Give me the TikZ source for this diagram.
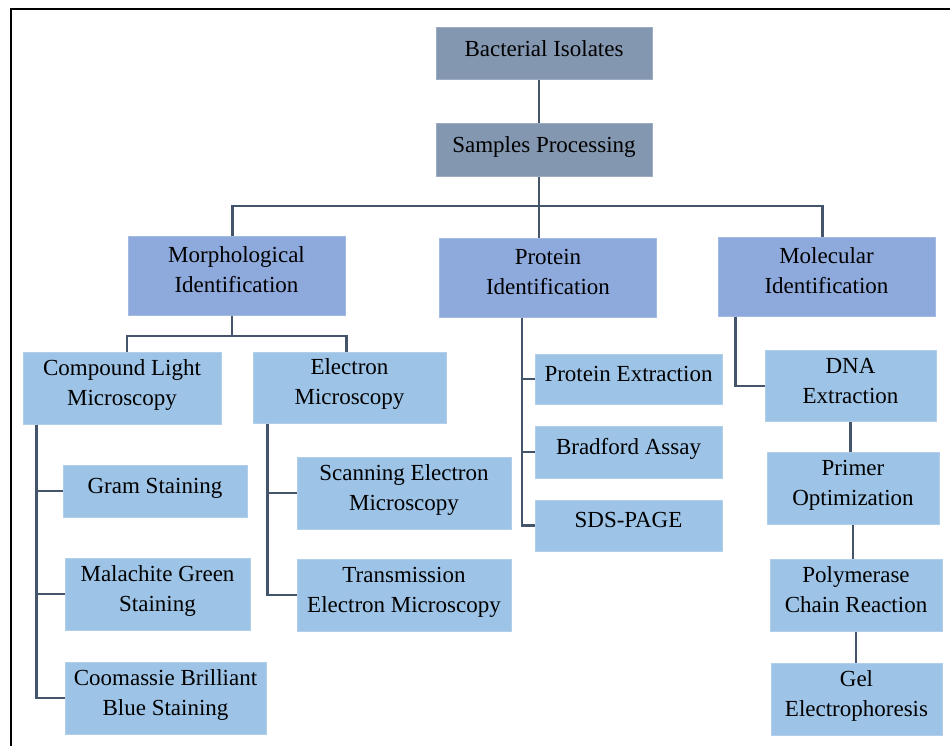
\documentclass[tikz,border=0pt]{standalone}
\usepackage{fontspec}
\setmainfont{Liberation Serif}
\definecolor{topfill}{HTML}{8497B0}
\definecolor{midfill}{HTML}{8EA9DB}
\definecolor{subfill}{HTML}{9DC3E6}
\definecolor{linkcol}{HTML}{44546A}

\begin{document}
\begin{tikzpicture}[x=1pt, y=-1pt,
  every node/.style={rectangle, inner sep=0, align=center, line width=1pt,
    font=\fontsize{23}{30}\selectfont,
    execute at end node={\rule[-11pt]{0pt}{0pt}}},
  topbox/.style={fill=topfill, draw=topfill!80!white},
  midbox/.style={fill=midfill, draw=midfill!80!white},
  subbox/.style={fill=subfill, draw=subfill!80!white},
  link/.style={draw=linkcol, line width=2.6pt}]
  \clip (0,0) rectangle (950,746);
  \useasboundingbox (0,0) rectangle (950,746);
  \draw[line width=2pt] (11,9) rectangle (970,770);

  \node[topbox, minimum width=216pt, minimum height=52pt] (bact) at (544,54) {Bacterial Isolates};
  \node[topbox, minimum width=216pt, minimum height=53pt] (samp) at (544,150.5) {Samples Processing};

  \node[midbox, minimum width=217pt, minimum height=79pt] (morph) at (236.5,275.5) {Morphological\\Identification};
  \node[midbox, minimum width=217pt, minimum height=79pt] (prot)  at (548,277.5)   {Protein\\Identification};
  \node[midbox, minimum width=217pt, minimum height=79pt] (molec) at (826.5,276.5) {Molecular\\Identification};

  \node[subbox, minimum width=198pt, minimum height=72pt] (clm) at (122,388)   {Compound Light\\Microscopy};
  \node[subbox, minimum width=193pt, minimum height=71pt] (elm) at (349.5,387.5) {Electron\\Microscopy};

  \node[subbox, minimum width=184pt, minimum height=52pt] (gram) at (155,491)   {Gram Staining};
  \node[subbox, minimum width=185pt, minimum height=72pt] (mala) at (157.5,594) {Malachite Green\\Staining};
  \node[subbox, minimum width=201pt, minimum height=72pt] (coom) at (165.5,698) {Coomassie Brilliant\\Blue Staining};

  \node[subbox, minimum width=214pt, minimum height=72pt] (sem) at (404,493) {Scanning Electron\\Microscopy};
  \node[subbox, minimum width=214pt, minimum height=72pt] (tem) at (404,595) {Transmission\\Electron Microscopy};

  \node[subbox, minimum width=187pt, minimum height=50pt] (pext) at (628.5,379)   {Protein Extraction};
  \node[subbox, minimum width=187pt, minimum height=52pt] (brad) at (628.5,452)   {Bradford Assay};
  \node[subbox, minimum width=187pt, minimum height=51pt] (sds)  at (628.5,525.5) {SDS-PAGE};

  \node[subbox, minimum width=171pt, minimum height=71pt] (dna)    at (850.5,386) {DNA\\Extraction};
  \node[subbox, minimum width=172pt, minimum height=72pt] (primer) at (853,488)   {Primer\\Optimization};
  \node[subbox, minimum width=172pt, minimum height=72pt] (pcr)    at (856,595)   {Polymerase\\Chain Reaction};
  \node[subbox, minimum width=171pt, minimum height=72pt] (gel)    at (856.5,699) {Gel\\Electrophoresis};

  % top of the tree
  \coordinate (hub) at (539,206);
  \coordinate (mhub) at (232,336);
  \draw[link] ([xshift=-5pt]bact.south) -- ([xshift=-5pt]samp.north);
  \draw[link] ([xshift=-5pt]samp.south) -- (prot.north -| hub);
  \draw[link] ([xshift=-4pt]morph.north) |- (hub) -| ([xshift=-4pt]molec.north);
  \draw[link] (morph.south -| mhub) -- (mhub);
  \draw[link] ([xshift=5pt]clm.north) |- (mhub) -| ([xshift=-3pt]elm.north);

  % side branches
  \foreach \c in {gram,mala,coom}
    \draw[link] ([xshift=14pt]clm.south west) |- (\c.west);
  \foreach \c in {sem,tem}
    \draw[link] ([xshift=15pt]elm.south west) |- (\c.west);
  \foreach \c in {pext,brad,sds}
    \draw[link] ([xshift=-26pt]prot.south) |- (\c.west);
  \draw[link] ([xshift=18pt]molec.south west) |- (dna.west);
  \draw[link] (dna.south) -- (dna.south |- primer.north);
  \draw[link] (primer.south) -- (primer.south |- pcr.north);
  \draw[link] (pcr.south) -- (pcr.south |- gel.north);
\end{tikzpicture}
\end{document}
